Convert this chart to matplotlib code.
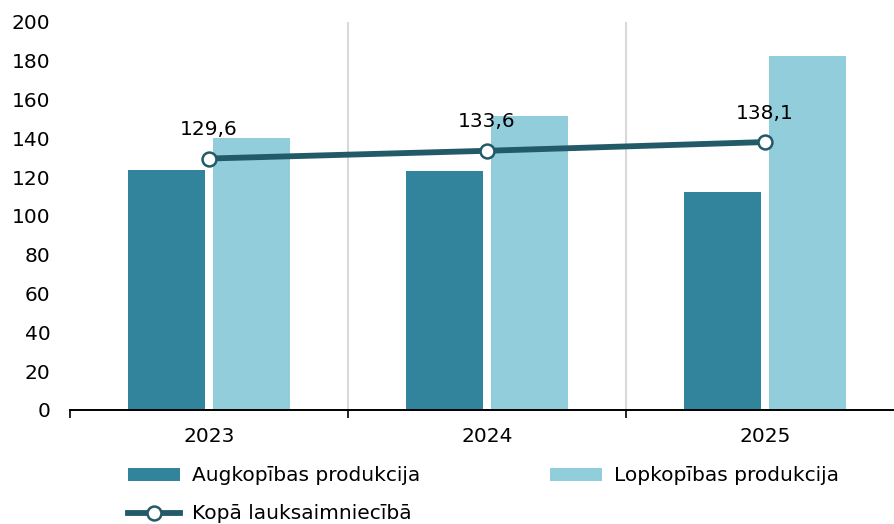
import matplotlib.pyplot as plt
import numpy as np

# data
years = ['2023', '2024', '2025']
augkopiba = [123.7, 123.2, 112.4]
lopkopiba = [140.2, 151.5, 182.5]
kopa = [129.6, 133.6, 138.1]

c_aug = '#31849b'
c_lop = '#92cddc'
c_line = '#235a68'

plt.rcParams['font.family'] = ['DejaVu Sans']
fs = 14.5

fig = plt.figure(figsize=(8.95, 5.24), dpi=100)
ax = fig.add_axes([0.0782, 0.2176, 0.932, 0.7405])

x = np.arange(len(years))
w = 0.277
off = 0.153

b1 = ax.bar(x - off, augkopiba, w, color=c_aug, label='Augkopības produkcija', zorder=2)
b2 = ax.bar(x + off, lopkopiba, w, color=c_lop, label='Lopkopības produkcija', zorder=2)
ln, = ax.plot(x, kopa, color=c_line, lw=4.2, marker='o', markersize=10,
              markerfacecolor='white', markeredgecolor=c_line, markeredgewidth=1.8,
              label='Kopā lauksaimniecībā', zorder=3)

for xi, v in zip(x, kopa):
    ax.annotate(f'{v:.1f}'.replace('.', ','), (xi, v), xytext=(0, 29),
                textcoords='offset pixels', ha='center', va='center', fontsize=fs)

ax.set_xlim(-0.5, 2.5)
ax.set_ylim(0, 200)
ax.set_yticks(range(0, 201, 20))
ax.tick_params(axis='y', length=0, labelsize=fs, pad=14)

# year labels in the middle, tick marks at the boundaries
ax.set_xticks(x)
ax.set_xticklabels(years, fontsize=fs)
ax.tick_params(axis='x', which='major', length=0, pad=12)
ax.set_xticks([-0.5, 0.5, 1.5, 2.5], minor=True)
ax.tick_params(axis='x', which='minor', length=6, width=1.2, direction='out', color='black')

for b in [0.5, 1.5]:
    ax.axvline(b, color='#d9d9d9', lw=1.5, zorder=1)

for s in ['top', 'right', 'left']:
    ax.spines[s].set_visible(False)
ax.spines['bottom'].set_color('black')
ax.spines['bottom'].set_linewidth(1.4)

fig.legend([b1, ln, b2], ['Augkopības produkcija', 'Kopā lauksaimniecībā', 'Lopkopības produkcija'],
           ncol=2, loc='upper left', bbox_to_anchor=(0.143, 0.11), frameon=False,
           fontsize=fs, handlelength=2.6, handleheight=0.6, handletextpad=0.6,
           columnspacing=6.4, labelspacing=0.95, borderpad=0, borderaxespad=0)

fig.savefig('out.png', dpi=100)
